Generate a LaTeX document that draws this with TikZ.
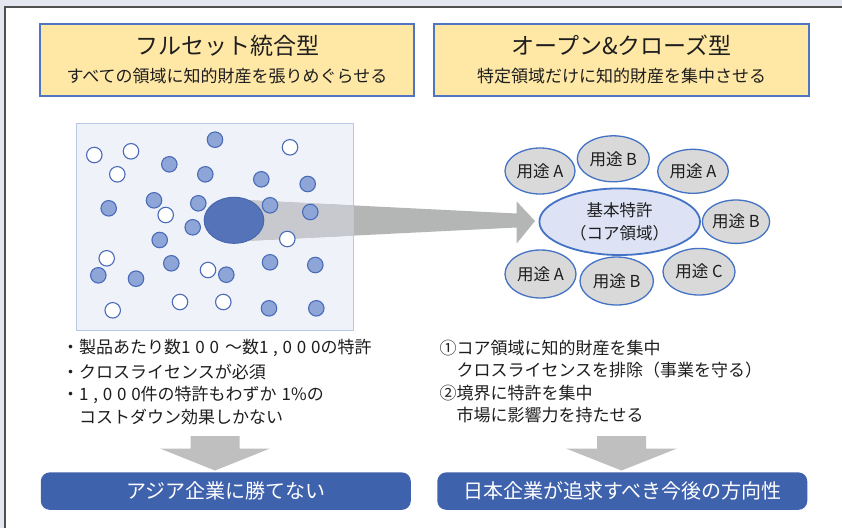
\documentclass[tikz,border=0pt]{standalone}
\usepackage{fontspec}
\setmainfont{Noto Sans CJK JP}
\newfontfamily\dgfont[LetterSpace=28]{Noto Sans CJK JP}
\newcommand\dg[1]{{\dgfont #1}}
\usetikzlibrary{shapes.geometric}
\definecolor{bgout}{HTML}{E4E6F0}
\definecolor{panelline}{HTML}{505050}
\definecolor{hdrfill}{HTML}{FFE8A6}
\definecolor{hdrline}{HTML}{4F74C2}
\definecolor{fieldfill}{HTML}{F0F2F9}
\definecolor{fieldline}{HTML}{B7C7E6}
\definecolor{bandout}{HTML}{B4B5B5}
\definecolor{bandin}{HTML}{C8C9CE}
\definecolor{dotline}{HTML}{4A6CB8}
\definecolor{dotfill}{HTML}{8EA5D7}
\definecolor{bigfill}{HTML}{5573B8}
\definecolor{bigline}{HTML}{4A68AE}
\definecolor{corefill}{HTML}{DDE3F4}
\definecolor{ellline}{HTML}{4472C4}
\definecolor{usefill}{HTML}{D9D9D9}
\definecolor{arrowgray}{HTML}{BFBFBF}
\definecolor{botfill}{HTML}{3F62AD}
\definecolor{txt}{HTML}{1E1E1E}
\begin{document}
\begin{tikzpicture}[x=1pt,y=-1pt,
  hdrbox/.style={draw=hdrline,line width=1.1pt,fill=hdrfill,inner sep=0pt,minimum height=72pt},
  titletxt/.style={text=txt,inner sep=0pt,font=\fontsize{23}{27}\selectfont},
  subtxt/.style={text=txt,inner sep=0pt,font=\fontsize{17}{20}\selectfont},
  wdot/.style={circle,draw=dotline,line width=1.1pt,fill=white,minimum size=15.5pt,inner sep=0pt},
  bdot/.style={circle,draw=dotline,line width=1.1pt,fill=dotfill,minimum size=15.5pt,inner sep=0pt},
  useell/.style={ellipse,draw=ellline,line width=1.3pt,fill=usefill,inner sep=0pt,text=txt,font=\fontsize{16.5}{20}\selectfont},
  corell/.style={ellipse,draw=ellline,line width=1.8pt,fill=corefill,inner sep=0pt,text=txt,align=center,font=\fontsize{16.5}{22.4}\selectfont},
  linetxt/.style={anchor=west,inner sep=0pt,text=txt,font=\fontsize{17}{20}\selectfont},
  botbox/.style={fill=botfill,rounded corners=9pt,minimum width=370pt,minimum height=37.5pt,inner sep=0pt,text=white,font=\fontsize{20}{24}\selectfont},
  grayarrow/.style={fill=arrowgray}
]
\useasboundingbox (0,0) rectangle (842,528);
% background and panel
\fill[bgout] (0,0) rectangle (842,528);
\fill[white] (5,7) rectangle (842,528);
\draw[panelline,line width=1.2pt] (5,528) -- (5,7) -- (842,7);

% headers
\node[hdrbox,minimum width=374pt] (hL) at (227,60) {};
\node[titletxt] (tL) at (227,45.5) {フルセット統合型};
\node[subtxt] (sL) at (227,76.5) {すべての領域に知的財産を張りめぐらせる};
\node[hdrbox,minimum width=375pt] (hR) at (621.5,60) {};
\node[titletxt] (tR) at (621.5,45.5) {オープン\&クローズ型};
\node[subtxt] (sR) at (621.5,76.5) {特定領域だけに知的財産を集中させる};

% field
\fill[fieldfill] (76,123) rectangle (353,330);

% core ellipse (target of band)
\node[corell,minimum width=160.6pt,minimum height=66.6pt] (core) at (619.7,221.7) {基本特許\\（コア領域）};

% band arrow
\coordinate (b1) at (234,199.5);
\coordinate (b2) at (516.7,213.5);
\coordinate (h1) at (516.7,201.5);
\coordinate (tip) at (535,221);
\coordinate (h2) at (516.7,243.5);
\coordinate (b3) at (516.7,227.5);
\coordinate (b4) at (234,241.5);
\fill[bandout] (b1) -- (b2) -- (h1) -- (tip) -- (h2) -- (b3) -- (b4) -- cycle;
\begin{scope}
  \clip (76,123) rectangle (353,330);
  \fill[bandin] (b1) -- (b2) -- (h1) -- (tip) -- (h2) -- (b3) -- (b4) -- cycle;
\end{scope}
\draw[fieldline,line width=1pt] (76,123) rectangle (353,330);

% dots
\foreach \x/\y [count=\i] in {94.3/155,131/151.3,117.3/174.3,290/147.3,165.7/215,287.3/239,106.7/258.3,208/270,112.7/310.3,180/302,223.3/302}
  \node[wdot] (w\i) at (\x,\y) {};
\foreach \x/\y [count=\i] in {215/139.7,169.3/164.3,205.3/174.3,261.3/179.3,307.7/184,108.7/208.3,154/200.3,198.3/203.3,270/205.3,310.3/212,192.7/227.3,159.7/240,171.3/263.3,270/262.3,315.3/265,98.3/275.3,136/278.7,226.3/274.7,269/308.3,316.3/308.3}
  \node[bdot] (d\i) at (\x,\y) {};

% big ellipse
\node[ellipse,fill=bigfill,draw=bigline,line width=1pt,minimum width=59.6pt,minimum height=46pt,inner sep=0pt] (bigE) at (234,220.3) {};

% usage ellipses
\node[useell,minimum width=70pt,minimum height=46pt] (u1) at (540,171) {用途 A};
\node[useell,minimum width=72pt,minimum height=46pt] (u2) at (613.3,158.8) {用途 B};
\node[useell,minimum width=70.6pt,minimum height=44pt] (u3) at (693,171.3) {用途 A};
\node[useell,minimum width=62pt,minimum height=43.4pt] (u4) at (736,221.7) {用途 B};
\node[useell,minimum width=71pt,minimum height=48pt] (u5) at (540.5,274) {用途 A};
\node[useell,minimum width=73.4pt,minimum height=48pt] (u6) at (616.7,281) {用途 B};
\node[useell,minimum width=72pt,minimum height=46.6pt] (u7) at (699,271.7) {用途 C};

% left text
\node[linetxt] (l1) at (62,348.3) {・製品あたり数\dg{100}\hspace{6pt}～数\dg{1,000}の特許};
\node[linetxt] (l2) at (62,371.7) {・クロスライセンスが必須};
\node[linetxt] (l3) at (62,395) {・\dg{1,000}件の特許もわずか\hspace{5pt}\dg{1}\%の};
\node[linetxt] (l4) at (62,417.3) {\phantom{・}コストダウン効果しかない};

% right text
\node[linetxt] (r1) at (439.3,348.3) {①コア領域に知的財産を集中};
\node[linetxt] (r2) at (439.3,370.5) {\phantom{①}クロスライセンスを排除（事業を守る）};
\node[linetxt] (r3) at (439.3,392.7) {②境界に特許を集中};
\node[linetxt] (r4) at (439.3,415) {\phantom{①}市場に影響力を持たせる};

% down arrows
\coordinate (la1) at (190.5,436);
\coordinate (la2) at (239.5,436);
\coordinate (la3) at (239.5,448.5);
\coordinate (la4) at (270,448.5);
\coordinate (latip) at (215,470.5);
\coordinate (la5) at (160,448.5);
\coordinate (la6) at (190.5,448.5);
\fill[grayarrow] (la1) -- (la2) -- (la3) -- (la4) -- (latip) -- (la5) -- (la6) -- cycle;
\coordinate (ra1) at (597,436);
\coordinate (ra2) at (646,436);
\coordinate (ra3) at (646,448.5);
\coordinate (ra4) at (677,448.5);
\coordinate (ratip) at (621.5,470.5);
\coordinate (ra5) at (566,448.5);
\coordinate (ra6) at (597,448.5);
\fill[grayarrow] (ra1) -- (ra2) -- (ra3) -- (ra4) -- (ratip) -- (ra5) -- (ra6) -- cycle;

% bottom boxes
\node[botbox] (bL) at (225.8,491.1) {アジア企業に勝てない};
\node[botbox] (bR) at (622.3,491.1) {日本企業が追求すべき今後の方向性};
\end{tikzpicture}
\end{document}
